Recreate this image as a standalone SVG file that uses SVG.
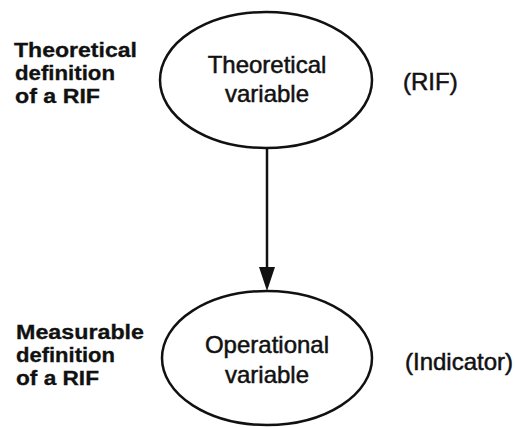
<svg xmlns="http://www.w3.org/2000/svg" width="515" height="427" viewBox="0 0 515 427">
<style>
.e{fill:none;stroke:#111;stroke-width:2.5}
.t{font-family:"Liberation Sans",Arial,sans-serif;font-size:24px;fill:#111;stroke:#111;stroke-width:0.5}
.c{text-anchor:middle}
.b{font-weight:bold;font-size:20px;stroke-width:0.3}
</style>
<rect width="515" height="427" fill="#fff"/>
<g id="connectors">
<line x1="267" y1="148" x2="267" y2="270" stroke="#111" stroke-width="2.5"/>
<path d="M259,267 L275,267 L267,291 Z" fill="#111"/>
</g>
<g id="theoretical">
<ellipse class="e" cx="266" cy="80" rx="106" ry="68"/>
<text class="t c" x="267" y="73">Theoretical</text>
<text class="t c" x="267" y="102">variable</text>
</g>
<g id="operational">
<ellipse class="e" cx="267" cy="358" rx="105" ry="67"/>
<text class="t c" x="267" y="353">Operational</text>
<text class="t c" x="267" y="383">variable</text>
</g>
<g id="label-theoretical">
<text class="t b" x="14" y="57" textLength="123" lengthAdjust="spacingAndGlyphs">Theoretical</text>
<text class="t b" x="15" y="80" textLength="100" lengthAdjust="spacingAndGlyphs">definition</text>
<text class="t b" x="15" y="103" textLength="85" lengthAdjust="spacingAndGlyphs">of a RIF</text>
</g>
<g id="label-measurable">
<text class="t b" x="16" y="339" textLength="128" lengthAdjust="spacingAndGlyphs">Measurable</text>
<text class="t b" x="16" y="362" textLength="99" lengthAdjust="spacingAndGlyphs">definition</text>
<text class="t b" x="16" y="385" textLength="83" lengthAdjust="spacingAndGlyphs">of a RIF</text>
</g>
<g id="label-rif"><text class="t" x="403" y="90">(RIF)</text></g>
<g id="label-indicator"><text class="t" x="405" y="370">(Indicator)</text></g>
</svg>
